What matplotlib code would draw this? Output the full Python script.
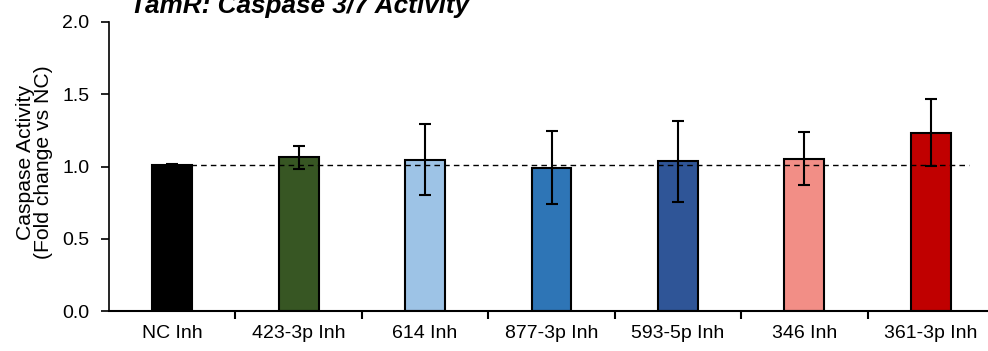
import numpy as np
import matplotlib
matplotlib.use('Agg')
import matplotlib.pyplot as plt

plt.rcParams['font.family'] = ['Liberation Sans', 'DejaVu Sans']

labels = ['NC Inh', '423-3p Inh', '614 Inh', '877-3p Inh', '593-5p Inh', '346 Inh', '361-3p Inh']
means = [1.01, 1.065, 1.048, 0.993, 1.035, 1.054, 1.234]
errs = [0.005, 0.08, 0.245, 0.254, 0.28, 0.185, 0.233]
colors = ['#000000', '#375623', '#9DC3E6', '#2E75B6', '#2F5597', '#F28E86', '#C00000']
yticks = [0.0, 0.5, 1.0, 1.5, 2.0]

fig = plt.figure(figsize=(9.88, 3.51), dpi=100)
ax = fig.add_axes([109 / 988, 40 / 351, 885 / 988, 289 / 351])

x = np.arange(len(labels))
ax.bar(x, means, width=0.315, color=colors, edgecolor='black', linewidth=1.5, zorder=2)
ax.errorbar(x, means, yerr=errs, fmt='none', ecolor='black', elinewidth=1.5,
            capsize=4.3, capthick=1.5, zorder=4)
ax.hlines(means[0], -0.16, 6.3, colors='black', linestyles=(0, (4, 3)), linewidth=1, zorder=3)

ax.set_xlim(-0.5, 6.5)
ax.set_ylim(0, 2.0)
ax.set_yticks(yticks)
ax.set_yticklabels([f'{t:.1f}' for t in yticks], fontsize=14)
ax.set_xticks(x)
ax.set_xticklabels(labels, fontsize=14)
ax.tick_params(axis='x', length=0, pad=10)
ax.set_xticks(np.arange(0.5, 6.5, 1), minor=True)
ax.tick_params(axis='x', which='minor', length=6, width=1.5, direction='out')
ax.tick_params(axis='y', length=6, width=1.2, direction='out', pad=8)

for s in ['top', 'right']:
    ax.spines[s].set_visible(False)
ax.spines['left'].set_linewidth(1.2)
ax.spines['bottom'].set_linewidth(1.5)

ax.set_ylabel('Caspase Activity\n(Fold change vs NC)', fontsize=15.2, linespacing=0.98)
ax.yaxis.set_label_coords(-0.063, 0.515)

fig.text(130 / 988, (351 - 13.5) / 351, 'TamR: Caspase 3/7 Activity', fontsize=18.8,
         fontweight='bold', fontstyle='italic', va='baseline', ha='left')

fig.savefig('out.png', dpi=100)
